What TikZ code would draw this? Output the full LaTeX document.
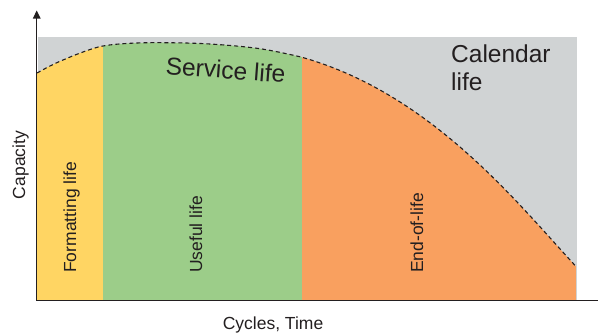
\documentclass[tikz,border=0pt]{standalone}
\usepackage{fontspec}
\setmainfont{Liberation Sans}
\usetikzlibrary{arrows.meta}
\definecolor{calgray}{RGB}{208,211,212}
\definecolor{fmtyellow}{RGB}{255,213,99}
\definecolor{usegreen}{RGB}{156,205,137}
\definecolor{endorange}{RGB}{249,160,95}
\definecolor{txt}{RGB}{35,31,32}
\tikzset{
  lbl/.style={font=\fontsize{17.5}{20}\selectfont, text=txt, inner sep=0pt},
  biglbl/.style={font=\fontsize{24.5}{28}\selectfont, text=txt, inner sep=0pt},
  axis/.style={line width=1.3pt, draw=txt},
  capcurve/.style={dash pattern=on 4pt off 3pt, line width=1.1pt, draw=txt}
}
\begin{document}
\begin{tikzpicture}[x=1pt,y=-1pt]
\useasboundingbox (0,0) rectangle (598,333);
\def\curvepath{plot[smooth, tension=0.6] coordinates {(37,73) (50,66) (63,60) (83,52) (103,46) (130,43.3) (165,42.7) (210,44) (260,48.7) (301,57)} .. controls (431,93.4) and (516.5,202.2) .. (576.5,267)}
% calendar life background
\fill[calgray] (37.5,36.5) rectangle (577,300.5);
% bands under the capacity curve
\begin{scope}
  \clip \curvepath -- (576.5,300.5) -- (37,300.5) -- cycle;
  \fill[fmtyellow] (37,30) rectangle (103,300.5);
  \fill[usegreen] (103,30) rectangle (302,300.5);
  \fill[endorange] (302,30) rectangle (577,300.5);
\end{scope}
% capacity curve
\draw[capcurve] \curvepath;
% axes
\coordinate (origin) at (36.7,300.5);
\coordinate (ytip) at (36.7,10.5);
\coordinate (xend) at (598,300.5);
\draw[axis, -{Triangle[width=7.5pt,length=8pt]}] (origin) -- (ytip);
\draw[axis] (origin) -- (xend);
% labels
\node[lbl, rotate=90, anchor=base] (ylab) at (25,165) {Capacity};
\node[lbl, anchor=base] (xlab) at (273,329) {Cycles, Time};
\node[lbl, rotate=90, anchor=base west] (fmt) at (76,273) {Formatting life};
\node[lbl, rotate=90, anchor=base west] (use) at (202,273) {Useful life};
\node[lbl, rotate=90, anchor=base west] (eol) at (423,273) {End-of-life};
\node[biglbl, rotate=-4.3, anchor=base] (serv) at (225,78.5) {Service life};
\node[biglbl, anchor=base west] (cal1) at (451,62) {Calendar};
\node[biglbl, anchor=base west] (cal2) at (451,90) {life};
\end{tikzpicture}
\end{document}
